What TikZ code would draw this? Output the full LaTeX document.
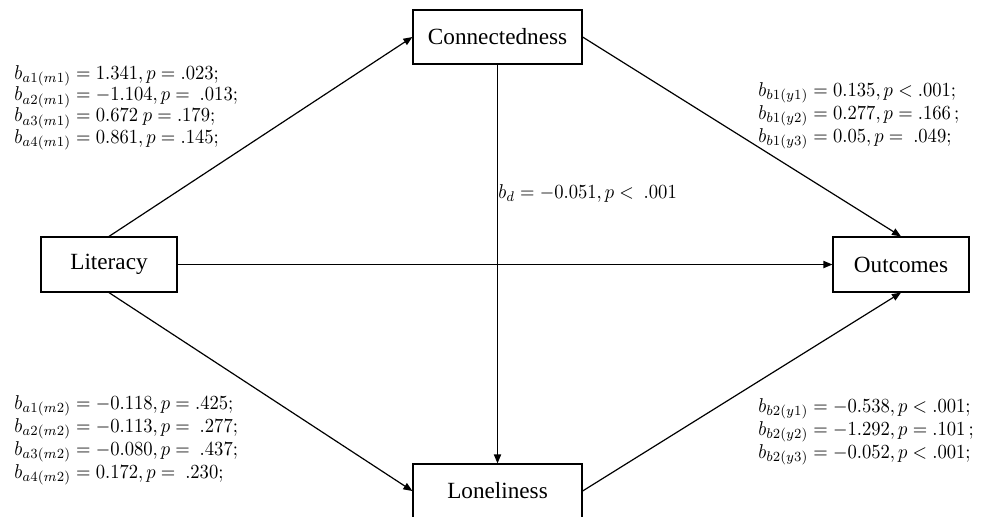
\documentclass[tikz,border=0pt]{standalone}
\usepackage{graphicx}
\usepackage{fontspec}
\setmainfont{Liberation Serif}
\usetikzlibrary{arrows.meta}
\newcommand\hsqz[1]{\scalebox{0.93}[1]{#1}}
\begin{document}
\begin{tikzpicture}[x=0.5pt,y=-0.5pt,
  box/.style={draw,line width=0.6pt,inner sep=0pt,font=\fontsize{11.6}{13}\selectfont},
  conn/.style={line width=0.6pt,-{Triangle[length=4.5pt,width=3.6pt]}},
  lab/.style={inner sep=0pt,align=left,anchor=north west}]
\useasboundingbox (0,0) rectangle (988,516);
\node[box,minimum width=84.5pt,minimum height=27pt] (con) at (497.5,37) {Connectedness};
\node[box,minimum width=68pt,minimum height=27.5pt] (lit) at (109,264.5) {Literacy};
\node[box,minimum width=68pt,minimum height=27.5pt] (out) at (901,264.5) {Outcomes};
\node[box,minimum width=84.5pt,minimum height=27pt] (lon) at (497.5,491) {Loneliness};
\draw[conn] (lit.north) -- (con.west);
\draw[conn] (con.east) -- (out.north);
\draw[conn] (lit.east) -- (out.west);
\draw[conn] (lit.south) -- (lon.west);
\draw[conn] (lon.east) -- (out.south);
\draw[conn] (con.south) -- (lon.north);
\node[lab,font=\fontsize{10}{10.65}\selectfont] (tl) at (14,65) {%
\hsqz{$b_{a1(m1)} = 1.341, p = .023;$}\\
\hsqz{$b_{a2(m1)} = -1.104, p = \ .013;$}\\
\hsqz{$b_{a3(m1)} = 0.672\ p = .179;$}\\
\hsqz{$b_{a4(m1)} = 0.861, p = .145;$}};
\node[lab,font=\fontsize{10}{10.5}\selectfont] (tr) at (758,82) {%
\hsqz{$b_{b1(y1)} = 0.135, p < .001;$}\\
\hsqz{$b_{b1(y2)} = 0.277, p = .166\,;$}\\
\hsqz{$b_{b1(y3)} = 0.05, p = \ .049;$}};
\node[lab,font=\fontsize{10}{10.15}\selectfont] (bl) at (14,395) {%
\hsqz{$b_{a1(m2)} = -0.118, p = .425;$}\\
\hsqz{$b_{a2(m2)} = -0.113, p = \ .277;$}\\
\hsqz{$b_{a3(m2)} = -0.080, p = \ .437;$}\\
\hsqz{$b_{a4(m2)} = 0.172, p = \ .230;$}};
\node[lab,font=\fontsize{10}{10.5}\selectfont] (br) at (758,398) {%
\hsqz{$b_{b2(y1)} = -0.538, p < .001;$}\\
\hsqz{$b_{b2(y2)} = -1.292, p = .101\,;$}\\
\hsqz{$b_{b2(y3)} = -0.052, p < .001;$}};
\node[inner sep=0pt,anchor=west,font=\fontsize{10}{12}\selectfont] (bd) at (498,193) {\hsqz{$b_d = -0.051, p <\ .001$}};
\end{tikzpicture}
\end{document}
